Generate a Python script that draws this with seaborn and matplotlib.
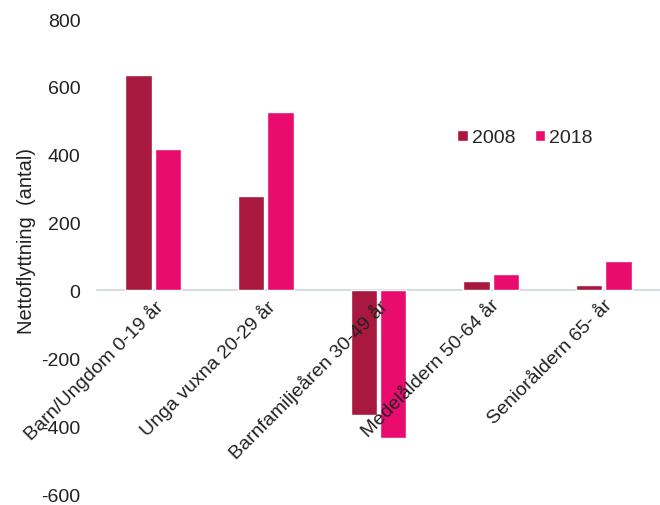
import matplotlib
matplotlib.use("Agg")
import matplotlib.pyplot as plt
import seaborn as sns
import pandas as pd

categories = ["Barn/Ungdom 0-19 år", "Unga vuxna 20-29 år", "Barnfamiljeåren 30-49 år",
              "Medelåldern 50-64 år", "Senioråldern 65- år"]
years = ["2008", "2018"]
values_2008 = [635, 279, -367, 28, 16]
values_2018 = [418, 527, -435, 48, 86]
y_ticks = [-600, -400, -200, 0, 200, 400, 600, 800]
colors = ["#A8183F", "#E90C6E"]

df = pd.DataFrame({
    "Kategori": categories * 2,
    "År": [years[0]] * len(categories) + [years[1]] * len(categories),
    "Värde": values_2008 + values_2018,
})

sns.set_theme(style="white")
plt.rcParams["font.family"] = ["Liberation Sans", "DejaVu Sans"]

fig = plt.figure(figsize=(6.6, 5.06), dpi=100)
ax = fig.add_axes([97 / 660, 1 - 495 / 506, 1 - 97 / 660, (495 - 20) / 506])

sns.barplot(data=df, x="Kategori", y="Värde", hue="År", palette=colors,
            width=0.52, gap=0.1, ax=ax, saturation=1)

ax.set_axisbelow(False)
ax.set_ylim(-600, 800)
ax.set_yticks(y_ticks)
ax.set_yticklabels([str(t) for t in y_ticks], fontsize=14, color="#222222")
ax.set_xlim(-0.5, 4.5)

for s in ["top", "right", "left"]:
    ax.spines[s].set_visible(False)
ax.spines["bottom"].set_position(("data", 0))
ax.spines["bottom"].set_color("#d0d8dc")
ax.spines["bottom"].set_linewidth(1.2)
ax.spines["bottom"].set_zorder(0.5)
ax.tick_params(axis="both", length=0)
ax.tick_params(axis="y", pad=12)
ax.tick_params(axis="x", pad=4)
for lab in ax.get_xticklabels():
    lab.set_rotation(45)
    lab.set_ha("right")
    lab.set_rotation_mode("anchor")
    lab.set_fontsize(14)
    lab.set_color("#222222")

ax.set_xlabel("")
ax.set_ylabel("Nettoflyttning  (antal)", fontsize=14.5, color="#222222")
ax.yaxis.set_label_coords(-0.108, 0.535)

leg = ax.legend(loc="center", bbox_to_anchor=(0.76, 0.75), ncol=2, frameon=False,
                fontsize=14, handlelength=0.55, handleheight=0.55, handletextpad=0.2,
                columnspacing=1.0, title=None)
ax.grid(False)

fig.savefig("out.png", dpi=100)
